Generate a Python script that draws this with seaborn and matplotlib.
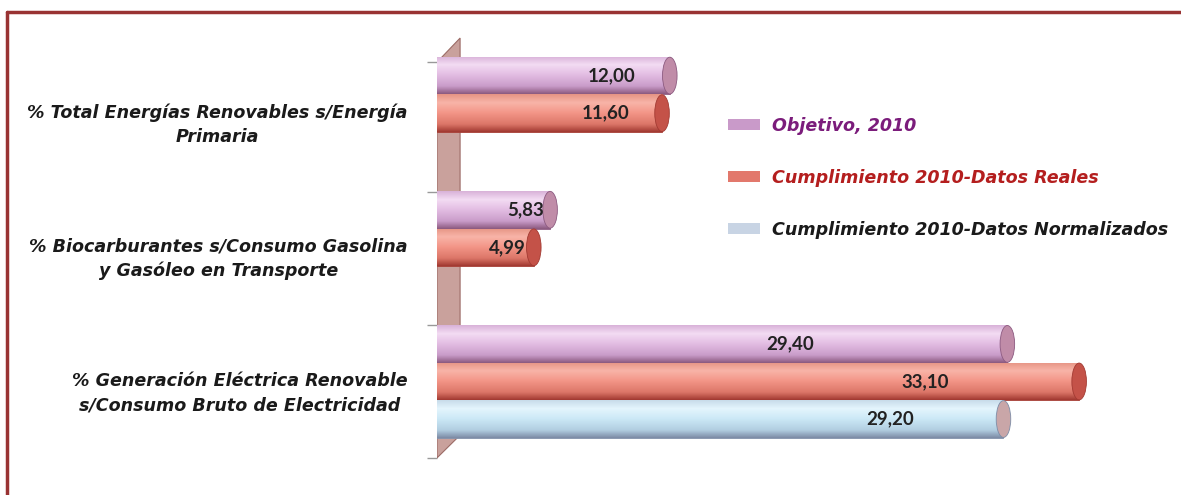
import numpy as np
import pandas as pd
import matplotlib
matplotlib.use("Agg")
import matplotlib.pyplot as plt
import seaborn as sns
from matplotlib.patches import Patch, Ellipse, Polygon
from matplotlib.lines import Line2D
from matplotlib.colors import LinearSegmentedColormap

# ---------------- data ----------------
categories = [
    "% Total Energías Renovables s/Energía\nPrimaria",
    "% Biocarburantes s/Consumo Gasolina\ny Gasóleo en Transporte",
    "% Generación Eléctrica Renovable\ns/Consumo Bruto de Electricidad",
]
series = ["Objetivo, 2010", "Cumplimiento 2010-Datos Reales",
          "Cumplimiento 2010-Datos Normalizados"]
objetivo = [12.00, 5.83, 29.40]
reales = [11.60, 4.99, 33.10]
normalizados = [None, None, 29.20]

# ---------------- style ----------------
swatch_colors = ["#c99ac9", "#e2786c", "#c8d4e4"]
legend_text_colors = ["#7b1c7b", "#b41e1e", "#1a1a1a"]
gradients = [
    ["#d9b2d9", "#f3dcf3", "#e2bce2", "#c99cc9", "#8c5a80"],
    ["#e69484", "#f8b4a8", "#f39587", "#dc7668", "#a23a32"],
    ["#c8dcea", "#e4f5fd", "#cbe8f6", "#b1cde0", "#7d8ca6"],
]
cap_colors = ["#c08ca8", "#c45248", "#c9a6a8"]
label_frac = [[0.75, 0.78, 0.62], [0.75, 0.73, 0.76], [0.80, 0.80, 0.80]]

rows = []
for s, vals in zip(series, [objetivo, reales, normalizados]):
    for c, v in zip(categories, vals):
        if v is not None:
            rows.append({"cat": c, "serie": s, "val": v})
df = pd.DataFrame(rows)

sns.set_style("white")
plt.rcParams["font.family"] = ["DejaVu Sans"]

fig = plt.figure(figsize=(11.81, 4.95), dpi=100)
ax = fig.add_axes([437 / 1181, 1 - 470 / 495, (1170 - 437) / 1181, 440 / 495])

sns.barplot(data=df, y="cat", x="val", hue="serie", order=categories,
            hue_order=series, orient="h", palette=swatch_colors,
            width=0.84, saturation=1, legend=False, ax=ax, zorder=3)

XMAX = (1170 - 437) / 19.4
YLIM = (2.66, -0.62)

# 3D wall behind bars
wall = Polygon([(0, -0.38), (1.19, -0.56), (1.19, 2.40), (0, 2.57)],
               closed=True, facecolor="#c9a19c", edgecolor="#9b6b66",
               lw=0.8, zorder=1)
ax.add_patch(wall)

# cylinder shading + caps + labels
for si, cont in enumerate(ax.containers):
    cmap = LinearSegmentedColormap.from_list(
        f"g{si}", list(zip([0.0, 0.22, 0.5, 0.8, 1.0], gradients[si])))
    grad = cmap(np.linspace(0, 1, 64))[:, None, :]
    for bar in cont.patches:
        w = bar.get_width()
        if not np.isfinite(w) or w == 0:
            continue
        x0, y0, h = bar.get_x(), bar.get_y(), bar.get_height()
        bar.set_edgecolor(gradients[si][4])
        bar.set_linewidth(0.6)
        im = ax.imshow(grad, extent=(x0, x0 + w, y0 + h, y0), aspect="auto",
                       origin="upper", zorder=3.5, interpolation="bilinear")
        im.set_clip_path(bar)
        cap = Ellipse((x0 + w, y0 + h / 2), width=0.75, height=h * 0.98,
                      facecolor=cap_colors[si], edgecolor=gradients[si][4],
                      lw=0.6, zorder=3.6)
        ax.add_patch(cap)
        idx = int(round(y0 + h / 2))
        ax.text(w * label_frac[si][idx], y0 + h / 2,
                f"{w:.2f}".replace(".", ","), ha="center", va="center",
                fontsize=13.5, fontweight="bold", color="#222222", zorder=5,
                family=["Lato", "DejaVu Sans"])

ax.set_xlim(0, XMAX)
ax.set_ylim(*YLIM)
ax.set_xlabel("")
ax.set_ylabel("")
ax.set_xticks([])
for sp in ax.spines.values():
    sp.set_visible(False)

ax.set_yticks([0.05, 1.045, 2.05])
ax.set_yticklabels(categories)
ax.tick_params(axis="y", which="major", length=0, pad=21)
for lbl in ax.get_yticklabels():
    lbl.set_multialignment("center")
    lbl.set_fontsize(12.6)
    lbl.set_fontstyle("italic")
    lbl.set_fontweight("bold")
    lbl.set_linespacing(1.45)
    lbl.set_color("#1a1a1a")
ax.set_yticks([-0.38, 0.59, 1.58, 2.57], minor=True)
ax.tick_params(axis="y", which="minor", length=7, width=1, color="#999999",
               direction="out", left=True)

# legend
handles = [Patch(facecolor=c, edgecolor="none") for c in swatch_colors]
leg = fig.legend(handles, series, loc="upper left",
                 bbox_to_anchor=(712 / 1181, 1 - 101 / 495), frameon=False,
                 prop={"size": 12.6, "style": "italic", "weight": "bold"},
                 labelspacing=1.94, handlelength=1.83, handleheight=0.57,
                 handletextpad=0.7)
for t, c in zip(leg.get_texts(), legend_text_colors):
    t.set_color(c)

# frame border
fig.add_artist(Line2D([7 / 1181, 1.0], [1 - 12 / 495, 1 - 12 / 495],
                      transform=fig.transFigure, color="#993333", lw=2.5))
fig.add_artist(Line2D([7 / 1181, 7 / 1181], [0.0, 1 - 12 / 495],
                      transform=fig.transFigure, color="#993333", lw=2.5))

fig.savefig("out.png", dpi=100)
